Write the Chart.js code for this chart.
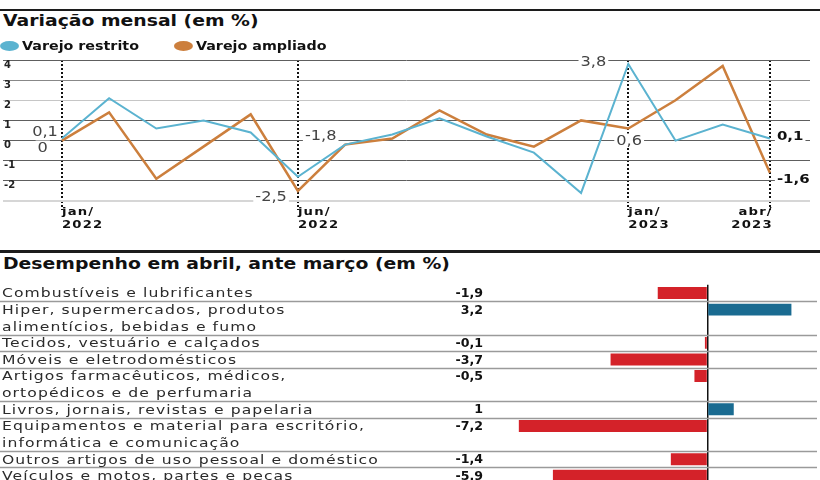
<!DOCTYPE html>
<html lang="pt-BR">
<head>
<meta charset="UTF-8">
<title>Varejo - variação mensal</title>
<script src="https://cdn.jsdelivr.net/npm/chart.js"></script>
<style>
    body { margin: 0; width: 820px; height: 480px; overflow: hidden; background: #fff; position: relative; font-family: "DejaVu Sans", sans-serif; }
    .regua { position: absolute; left: 0; width: 820px; background: #1c1c1c; }
    .titulo { position: absolute; left: 3px; font-weight: bold; font-size: 16.5px; line-height: 16.5px; color: #111; white-space: nowrap;
              transform: scaleX(1.14); transform-origin: 0 0; }
    canvas { position: absolute; left: 0; }
</style>
</head>
<body>
<div class="regua" style="top:9px;height:2px"></div>
<div class="titulo" style="top:13px">Variação mensal (em %)</div>
<canvas id="linhas" width="820" height="206" style="top:34px"></canvas>

<div class="regua" style="top:250px;height:2.5px"></div>
<div class="titulo" style="top:256px">Desempenho em abril, ante março (em %)</div>
<canvas id="barras" width="820" height="215" style="top:276px"></canvas>

<script>
// ---- dados: variação mensal, jan/2022 a abr/2023 ----
const meses = ['jan/22', 'fev/22', 'mar/22', 'abr/22', 'mai/22', 'jun/22', 'jul/22', 'ago/22',
               'set/22', 'out/22', 'nov/22', 'dez/22', 'jan/23', 'fev/23', 'mar/23', 'abr/23'];
const varejoRestrito = [0.1, 2.1, 0.6, 1.0, 0.4, -1.8, -0.2, 0.3, 1.1, 0.2, -0.6, -2.6, 3.8, 0.0, 0.8, 0.1];
const varejoAmpliado = [0.0, 1.4, -1.9, -0.3, 1.3, -2.5, -0.2, 0.1, 1.5, 0.3, -0.3, 1.0, 0.6, 2.0, 3.7, -1.6];
const marcosMes = [0, 5, 12, 15];
const marcosRotulo = [['jan/', '2022'], ['jun/', '2022'], ['jan/', '2023'], ['abr/', '2023']];

// ---- dados: desempenho em abril, ante março ----
const setores = [
    ['Combustíveis e lubrificantes'],
    ['Hiper, supermercados, produtos', 'alimentícios, bebidas e fumo'],
    ['Tecidos, vestuário e calçados'],
    ['Móveis e eletrodomésticos'],
    ['Artigos farmacêuticos, médicos,', 'ortopédicos e de perfumaria'],
    ['Livros, jornais, revistas e papelaria'],
    ['Equipamentos e material para escritório,', 'informática e comunicação'],
    ['Outros artigos de uso pessoal e doméstico'],
    ['Veículos e motos, partes e peças']
];
const desempenho = [-1.9, 3.2, -0.1, -3.7, -0.5, 1, -7.2, -1.4, -5.9];

const AZUL = '#5bb3d0', LARANJA = '#cc7f3d';
const VERMELHO = '#d42229', AZUL_ESCURO = '#1a6b91';
Chart.defaults.font.family = '"DejaVu Sans", sans-serif';

function fmt(v) {
    return Number.isInteger(v) ? String(v) : v.toFixed(1).replace('.', ',');
}

// texto um pouco alargado, como na arte original
function escreve(ctx, t, x, y, alinhamento, largura) {
    ctx.save();
    ctx.translate(x, y);
    ctx.scale(largura, 1);
    ctx.textAlign = alinhamento;
    ctx.fillText(t, 0, 0);
    ctx.restore();
}

// rótulos de valor do gráfico de linhas (série, mês, deslocamento)
const notas = [
    { serie: 0, mes: 0,  dx: -4,  dy: -7,  lado: 'right' },
    { serie: 1, mes: 0,  dx: -14, dy: 7,   lado: 'right' },
    { serie: 0, mes: 5,  dx: 7,   dy: -41, lado: 'left' },
    { serie: 1, mes: 5,  dx: -11, dy: 6,   lado: 'right' },
    { serie: 0, mes: 12, dx: -22, dy: -3,  lado: 'right' },
    { serie: 1, mes: 12, dx: -12, dy: 12,  lado: 'left' },
    { serie: 0, mes: 15, dx: 7,   dy: -3,  lado: 'left', negrito: true },
    { serie: 1, mes: 15, dx: 7,   dy: 6,   lado: 'left', negrito: true }
];

const legendaManual = {
    id: 'legendaManual',
    afterDraw(chart) {
        const ctx = chart.ctx;
        ctx.save();
        ctx.font = 'bold 12px "DejaVu Sans"';
        ctx.textBaseline = 'middle';
        let x = 0;
        chart.data.datasets.forEach(ds => {
            ctx.fillStyle = ds.borderColor;
            ctx.beginPath();
            ctx.ellipse(x + 9.5, 12, 9.5, 5, 0, 0, Math.PI * 2);
            ctx.fill();
            ctx.fillStyle = '#111';
            escreve(ctx, ds.label, x + 22, 12.5, 'left', 1.19);
            x += 22 + ctx.measureText(ds.label).width * 1.19 + 35;
        });
        ctx.restore();
    }
};

const rotulosX = {
    id: 'rotulosX',
    afterDraw(chart) {
        const ctx = chart.ctx, sx = chart.scales.x, fundo = chart.chartArea.bottom;
        ctx.save();
        ctx.font = 'bold 11px "DejaVu Sans"';
        ctx.letterSpacing = '1px';
        ctx.fillStyle = '#111';
        marcosMes.forEach((m, k) => {
            const px = sx.getPixelForValue(m);
            const ultimo = k === marcosMes.length - 1;
            marcosRotulo[k].forEach((t, j) => {
                escreve(ctx, t, ultimo ? px + 3 : px, fundo + 14 + j * 13, ultimo ? 'right' : 'left', 1.2);
            });
        });
        ctx.restore();
    }
};

const rotulosValores = {
    id: 'rotulosValores',
    afterDatasetsDraw(chart) {
        const ctx = chart.ctx;
        ctx.save();
        ctx.textBaseline = 'middle';
        notas.forEach(n => {
            const p = chart.getDatasetMeta(n.serie).data[n.mes];
            const texto = fmt(chart.data.datasets[n.serie].data[n.mes].y);
            ctx.font = n.negrito ? 'bold 12.5px "DejaVu Sans"' : '13.5px "DejaVu Sans"';
            const w = ctx.measureText(texto).width * 1.2;
            const x = p.x + n.dx, y = p.y + n.dy;
            const x0 = n.lado === 'right' ? x - w : x;
            ctx.fillStyle = '#fff';
            ctx.fillRect(x0 - 2, y - 7, w + 4, 14);
            ctx.fillStyle = n.negrito ? '#111' : '#444';
            escreve(ctx, texto, x, y + 1, n.lado, 1.2);
        });
        ctx.restore();
    }
};

new Chart(document.getElementById('linhas'), {
    type: 'line',
    data: {
        datasets: [
            { label: 'Varejo restrito', data: varejoRestrito.map((v, i) => ({ x: i, y: v })),
              borderColor: AZUL, backgroundColor: AZUL, borderWidth: 2 },
            { label: 'Varejo ampliado', data: varejoAmpliado.map((v, i) => ({ x: i, y: v })),
              borderColor: LARANJA, backgroundColor: LARANJA, borderWidth: 2.5 }
        ]
    },
    options: {
        responsive: false,
        animation: false,
        elements: { point: { radius: 0 }, line: { tension: 0 } },
        layout: { padding: { top: 26, left: 1, right: 10, bottom: 30 } },
        plugins: { legend: { display: false }, tooltip: { enabled: false } },
        scales: {
            x: {
                type: 'linear', min: -1.248, max: 15.85,
                afterBuildTicks: s => { s.ticks = marcosMes.map(v => ({ value: v })); },
                ticks: { display: false },
                grid: { color: '#111', lineWidth: 2, tickLength: 9, tickColor: '#111', tickWidth: 2, tickBorderDash: [2, 2] },
                border: { display: false, dash: [2, 2] }
            },
            y: {
                min: -3, max: 4,
                ticks: {
                    stepSize: 1, mirror: true, padding: 1, labelOffset: 5, color: '#222',
                    font: { weight: 'bold', size: 10 },
                    callback: v => v === -3 ? '' : v
                },
                grid: {
                    drawTicks: false,
                    color: c => {
                        const v = c.tick.value;
                        if (v === -3) return '#d6d6d6';
                        if (v === 2) return '#c6c6c6';
                        if (v === 3) return '#888';
                        return '#5e5e5e';
                    },
                    lineWidth: c => c.tick.value === -3 ? 2 : 1
                },
                border: { display: false }
            }
        }
    },
    plugins: [legendaManual, rotulosX, rotulosValores]
});

// uma linha de texto por posição do eixo; a barra fica na primeira linha de cada setor
const linhas = [], valoresLinha = [], inicioSetor = [];
setores.forEach((s, k) => {
    inicioSetor.push(linhas.length);
    s.forEach((t, j) => {
        linhas.push(t);
        valoresLinha.push(j === 0 ? desempenho[k] : null);
    });
});

const tabela = {
    id: 'tabela',
    afterDraw(chart) {
        const ctx = chart.ctx, sy = chart.scales.y, area = chart.chartArea;
        ctx.save();
        ctx.strokeStyle = '#9a9a9a';
        ctx.lineWidth = 1.5;
        inicioSetor.slice(1).forEach(i => {
            const y = Math.round((sy.getPixelForValue(i - 1) + sy.getPixelForValue(i)) / 2) + 0.5;
            ctx.beginPath();
            ctx.moveTo(0, y);
            ctx.lineTo(area.right + 2, y);
            ctx.stroke();
        });
        ctx.textBaseline = 'middle';
        linhas.forEach((t, i) => {
            const y = sy.getPixelForValue(i) + 1;
            ctx.font = '13px "DejaVu Sans"';
            ctx.letterSpacing = '0.9px';
            ctx.fillStyle = '#2b2b2b';
            escreve(ctx, t, 2, y, 'left', 1.2);
            if (valoresLinha[i] !== null) {
                ctx.font = 'bold 12px "DejaVu Sans"';
                ctx.letterSpacing = '0px';
                ctx.fillStyle = '#111';
                escreve(ctx, fmt(valoresLinha[i]), 483, y, 'right', 1.05);
            }
        });
        ctx.restore();
    }
};

new Chart(document.getElementById('barras'), {
    type: 'bar',
    data: {
        labels: linhas,
        datasets: [{
            data: valoresLinha,
            backgroundColor: c => c.raw < 0 ? VERMELHO : AZUL_ESCURO,
            barPercentage: 0.72,
            categoryPercentage: 1
        }]
    },
    options: {
        indexAxis: 'y',
        responsive: false,
        animation: false,
        layout: { padding: { top: 8.7, bottom: 6.9, left: 490, right: 5 } },
        plugins: { legend: { display: false }, tooltip: { enabled: false } },
        scales: {
            y: { display: false, offset: true },
            x: {
                min: -8.3, max: 4.1,
                afterBuildTicks: s => { s.ticks = [{ value: 0 }]; },
                ticks: { display: false },
                grid: { drawTicks: false, color: '#111', lineWidth: 1.5 },
                border: { display: false }
            }
        }
    },
    plugins: [tabela]
});
</script>
</body>
</html>
